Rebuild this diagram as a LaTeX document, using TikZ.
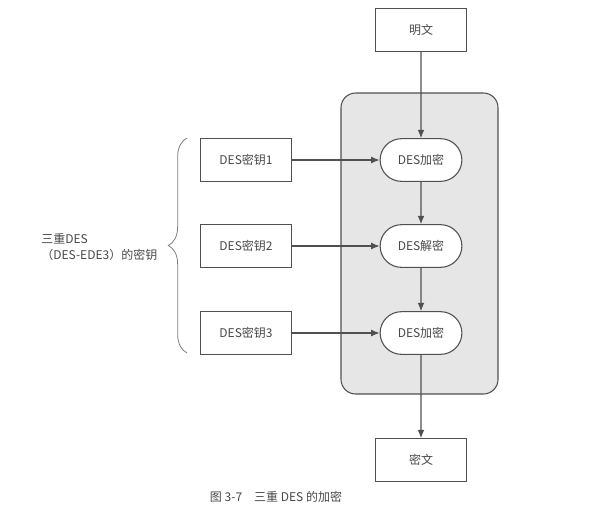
\documentclass[tikz,border=0pt]{standalone}
\usepackage{fontspec}
\setmainfont{Liberation Sans}
\newfontfamily\cjk{Noto Sans CJK SC}
\usetikzlibrary{arrows.meta,positioning,shapes.misc,decorations.pathreplacing}
\definecolor{desLine}{HTML}{505050}
\definecolor{desText}{HTML}{484848}
\definecolor{desPanel}{HTML}{E6E6E6}

\begin{document}
\begin{tikzpicture}[
  x=0.75pt,y=-0.75pt,
  box/.style={rectangle,draw=desLine,fill=white,thick,minimum width=68pt,minimum height=32pt,font=\cjk\fontsize{9}{11}\selectfont,text=desText},
  stage/.style={rounded rectangle,draw=desLine,fill=white,thick,minimum width=68pt,minimum height=32pt,font=\cjk\fontsize{9}{11}\selectfont,text=desText},
  arrow/.style={-{Latex[length=2.2mm,width=1.8mm]},thick,color=desLine}
]
\useasboundingbox (0,0) rectangle (589,519);
% background panel
\filldraw[draw=desLine,fill=desPanel,thick,rounded corners=11pt] (341,93) rectangle (498,394);
\node[box] (plain) at (421,30) {明文};
\node[stage] (enc1) at (421,160) {DES加密};
\node[stage] (dec) at (421,246) {DES解密};
\node[stage] (enc2) at (421,333) {DES加密};
\node[box] (cipher) at (421,460) {密文};
\node[box] (key1) at (246,160) {DES密钥1};
\node[box] (key2) at (246,246) {DES密钥2};
\node[box] (key3) at (246,333) {DES密钥3};
\draw[arrow] (plain) -- (enc1);
\draw[arrow] (enc1) -- (dec);
\draw[arrow] (dec) -- (enc2);
\draw[arrow] (enc2) -- (cipher);
\draw[arrow] (key1) -- (enc1);
\draw[arrow] (key2) -- (dec);
\draw[arrow] (key3) -- (enc2);
% brace and label
\coordinate (bracetop) at (187,138);
\coordinate (bracebot) at (187,353);
\draw[desLine!75,semithick,decorate,decoration={brace,amplitude=14pt}] (bracebot) -- (bracetop);
\node[anchor=east,align=left,font=\cjk\fontsize{9}{12}\selectfont,text=desText] (keylabel) at (162,247) {三重DES\\（DES-EDE3）的密钥};
\node[font=\cjk\fontsize{9}{11}\selectfont,text=desText] (caption) at (276,497) {图 3-7\quad 三重 DES 的加密};
\end{tikzpicture}
\end{document}
